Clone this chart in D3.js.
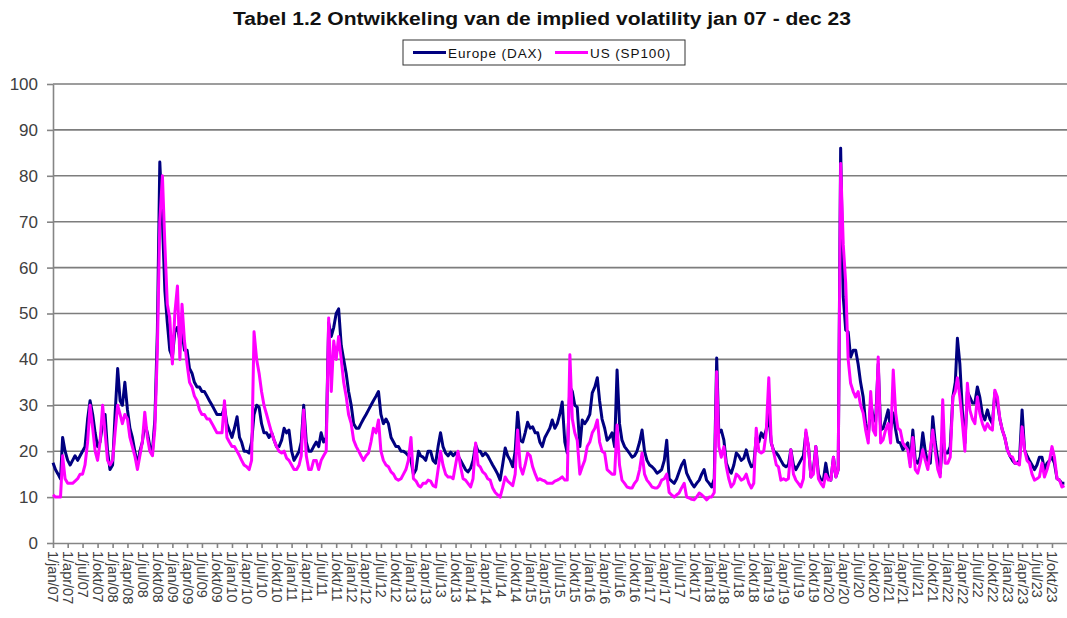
<html>
<head>
<script src="https://d3js.org/d3.v7.min.js"></script>
<style>
  body { margin: 0; background: #fff; }
  svg text { font-family: Arial, "Liberation Sans", sans-serif; }
  .grid line { stroke: #7d7d7d; stroke-width: 1.6px; }
  .axis path, .axis line { stroke: #858585; stroke-width: 1.6px; }
  .axis text { fill: #404040; }
</style>
</head>
<body>
<svg id="chart" width="1067" height="618"></svg>
<script>
// semi-monthly readings (1st and 16th of every month), one line per year
const years = [2007, 2008, 2009, 2010, 2011, 2012, 2013, 2014, 2015, 2016, 2017, 2018, 2019, 2020, 2021, 2022, 2023];
const halfMonthDays = [1, 16];
const tickMonths = ["jan", "apr", "jul", "okt"];
const yTicks = [0, 10, 20, 30, 40, 50, 60, 70, 80, 90, 100];

const dax = [
  17.5,16,15,14,23,20,18,17,18,19,18,19,20,21,27,31,28,24,21,22,26,28,20,16,
  17,28,38,31,30,35,29,25,23,20,17,20,22,26,24,21,20,27,46,83,70,55,48,42,
  40.5,46,47,44,46,42,42,38,37,35,34,34,33,33,32,31,30,29,28,28,28,29.5,26,24.5,
  23,25,27.5,23,22,20,20,19.6,22,28,30,29.6,26,24,24,23,24,22.4,21,21,22.4,25,24,24.6,
  20,18,19,20,22,30,22,20,20,21,22,21,24,22,23,48,45,47,50,51,43,40,37,33,
  30,26,25,25,26,27,28,29,30,31,32,33,28,26,27,26,23,22,21,21,20,20,19.6,19,
  18,15,16,20,19,18.7,18,20,20,18,17.4,21,24,21,19.6,19,19.8,19,19.6,19,18,17,16,15.5,
  16.3,18,21.4,20,20,19,19.6,19,18,17,16,15,13.7,17,20.7,19,18,16.6,20,28.5,22.4,22,24,26.3,
  25,25.3,24,24,22,21,23,24,25,26.8,25,26,28,30.7,22,19.6,34,33,30,29.6,21,26.8,26,26.8,
  28,32.7,34,36,31,27,25,22.4,23,24,21,37.7,26,22.4,21,20.3,19.5,18.7,19,20,22,24.6,20,18,
  17,16.6,16,15.2,15.5,16,18,22.4,14,13.5,13,14,15.5,17,18,15.2,14,13,12.2,13,13.7,15,16,13.7,
  13,12.2,14,40.3,24,24.6,22.4,17.4,16,15.2,17,19.6,19,18,18.5,20.3,18,16.6,17,23,22,24,23,24.6,
  28,21.8,20,19.6,19,18,17,16.6,17,20.3,17,16,17,18,19,24,21,14.4,16,21,15,13.7,13.7,17.4,
  14,13.7,18.7,14.4,16,86,53.6,46.4,46,40.5,42,42,39,35,31.8,26,23,30.5,27.5,26.5,39,24.6,25,26.8,
  29,24.6,28.3,24.6,22,21.8,20.3,21,21.8,17.4,24.6,18,17.4,18.7,24,20,17.4,17.4,27.5,22,18,15.2,23,19.6,
  19.6,21,31.8,35,44.6,39,28.3,21.8,33,31.8,30.5,30.5,34,31.8,28,26.8,29,27,26,32.7,30.5,27,24.6,23,
  20.3,19,18,17.4,17.4,18,29,20.3,19,18,17,16,17,18.7,18.7,16,17.4,18,18.7,17.4,14,13.7,13,13
];

const sp100 = [
  10.5,10,10,10,19,14,13,13,13,13.5,14,15,15,17,22,30,25,20,18,22,30,24,18,17,
  18,24,30,28,26,28,27,23,21,19,16,19,22,28.5,23,20,19,25,42,70,80,65,52,49,
  39,50,56,40,52,44,39,35,34,32,31,29,28,28,27,27,26,25,24,24,24,31,23,22,
  21,21,20,19,18,17,16.6,16,18,46,40,37,33,30,28,26,24,22.4,21,20,19.6,20,18.5,18,
  17,16,16,17,19,29,19,16,16,18,18,16,18,19,20,49,33,44,40,45,40,35,32,28,
  26,22.4,21,20,19,18,19,19.6,22,25,24,26.8,20,18,17,16.6,15.5,15,14,13.7,14,15,16,18,
  23,14,13.5,12.5,12.2,13,13,13.7,13.5,12.5,12.2,16,20,17,15,14.4,14.4,14,17,20,16.6,14,13.7,13,
  12.2,14,21.8,17,16.6,15.5,15,14,13.7,12,11,10.5,10,12,14.4,13.5,13,12.5,15,24.6,16.6,15,17,19.6,
  19,16.6,15,13.7,14,13.7,13.5,13,13,13,13.5,13.7,14,14.4,13.7,13.7,41,27,24,22.4,15,16.6,18,21,
  22,24,25,26.8,22,20,19.6,16,15.5,15,15,25.7,17,13.7,13,12.2,12,12,13,13.7,16,19.6,15,13.7,
  13,12.2,12,12,12.5,13.7,14,15,11,10.5,10,10.5,10.9,12,13,10,9.8,9.5,9.4,10,10.9,10.5,10,9.4,
  10,10,11,37.3,21,18.7,21,16.6,14,12.2,13,15,14.5,13.7,14,15,13,12,13,25,20,19.6,20,24,
  36,22,19.6,17,16.6,13.7,14,13.7,14,20.3,15,13.7,13,12.2,14,24.6,21,14.4,15,21,14,13,12.2,15,
  13.7,13.7,18.7,14.4,16,82.7,65,56.6,40,34.8,33,31.8,33,30,28.3,24.6,21.8,33,24.6,23.5,40.5,21.8,22.5,24.6,
  26,21.8,37.7,28.3,25,24.6,21.8,21,20.3,16.6,23,16,15.2,17.4,20.3,18,16,20.3,24.6,20,16,14.4,31.2,17.4,
  17.4,18.7,31.8,33,36,31.8,26,20,34.8,29,27,26,31.8,28.3,26,24.6,26,25,24.6,33.3,31.8,27,24.6,23,
  20.3,19,18.7,17.4,17.4,17,25.3,20.3,18,17.4,15,13.7,14,14.4,17.4,14.4,16,18,21,18.7,14,13.7,12.2,12.5
];

const dates = [];
years.forEach(yr => d3.range(12).forEach(m => halfMonthDays.forEach(day => dates.push(new Date(yr, m, day)))));

const tickDates = [];
years.forEach(yr => tickMonths.forEach((mn, i) => tickDates.push({ date: new Date(yr, i * 3, 1), label: `1/${mn}/${String(yr).slice(2)}` })));

const svg = d3.select("#chart");
const margin = { top: 84, right: 0, bottom: 75, left: 53 };
const width = +svg.attr("width");
const height = +svg.attr("height");

const x = d3.scaleTime()
  .domain([new Date(2007, 0, 1), new Date(2024, 0, 1)])
  .range([margin.left, width - margin.right]);
const y = d3.scaleLinear().domain([0, 100]).range([height - margin.bottom, margin.top]);

// gridlines
svg.append("g").attr("class", "grid")
  .selectAll("line").data(yTicks.filter(d => d > 0)).join("line")
  .attr("x1", margin.left).attr("x2", width)
  .attr("y1", d => y(d)).attr("y2", d => y(d));

// y axis
const yAxis = svg.append("g").attr("class", "axis")
  .attr("transform", `translate(${margin.left},0)`)
  .call(d3.axisLeft(y).tickValues(yTicks).tickSize(6).tickSizeOuter(0).tickPadding(9));
yAxis.selectAll("text").attr("font-size", 17);

// x axis
const xAxis = svg.append("g").attr("class", "axis")
  .attr("transform", `translate(0,${y(0)})`)
  .call(d3.axisBottom(x).tickValues(tickDates.map(d => d.date)).tickSize(5).tickSizeOuter(0)
    .tickFormat((d, i) => tickDates[i].label));
xAxis.selectAll("text")
  .attr("font-size", 14.5)
  .attr("text-anchor", "start")
  .attr("transform", "rotate(90)")
  .attr("x", 8)
  .attr("y", 0)
  .attr("dy", "0.35em");

// lines, US drawn on top
const line = vals => d3.line().x((d, i) => x(dates[i])).y(d => y(d))(vals);
svg.append("path").attr("d", line(dax))
  .attr("fill", "none").attr("stroke", "#000080").attr("stroke-width", 3).attr("stroke-linejoin", "round");
svg.append("path").attr("d", line(sp100))
  .attr("fill", "none").attr("stroke", "#ff00ff").attr("stroke-width", 3).attr("stroke-linejoin", "round");

// title
svg.append("text")
  .attr("x", 542).attr("y", 25)
  .attr("text-anchor", "middle")
  .attr("font-size", 18).attr("font-weight", "bold").attr("fill", "#111")
  .attr("textLength", 618).attr("lengthAdjust", "spacingAndGlyphs")
  .text("Tabel 1.2 Ontwikkeling van de implied volatility jan 07 - dec 23");

// legend
const legend = svg.append("g").attr("transform", "translate(403,40)");
legend.append("rect").attr("width", 282).attr("height", 25)
  .attr("fill", "#fff").attr("stroke", "#333").attr("stroke-width", 1);
const items = [
  { name: "Europe (DAX)", color: "#000080", x0: 10 },
  { name: "US (SP100)", color: "#ff00ff", x0: 152 }
];
items.forEach(it => {
  legend.append("line").attr("x1", it.x0).attr("x2", it.x0 + 33).attr("y1", 12.5).attr("y2", 12.5)
    .attr("stroke", it.color).attr("stroke-width", 3);
  legend.append("text").attr("x", it.x0 + 35).attr("y", 17.5)
    .attr("font-size", 13.5).attr("letter-spacing", "0.9px").attr("fill", "#111")
    .text(it.name);
});
</script>
</body>
</html>
